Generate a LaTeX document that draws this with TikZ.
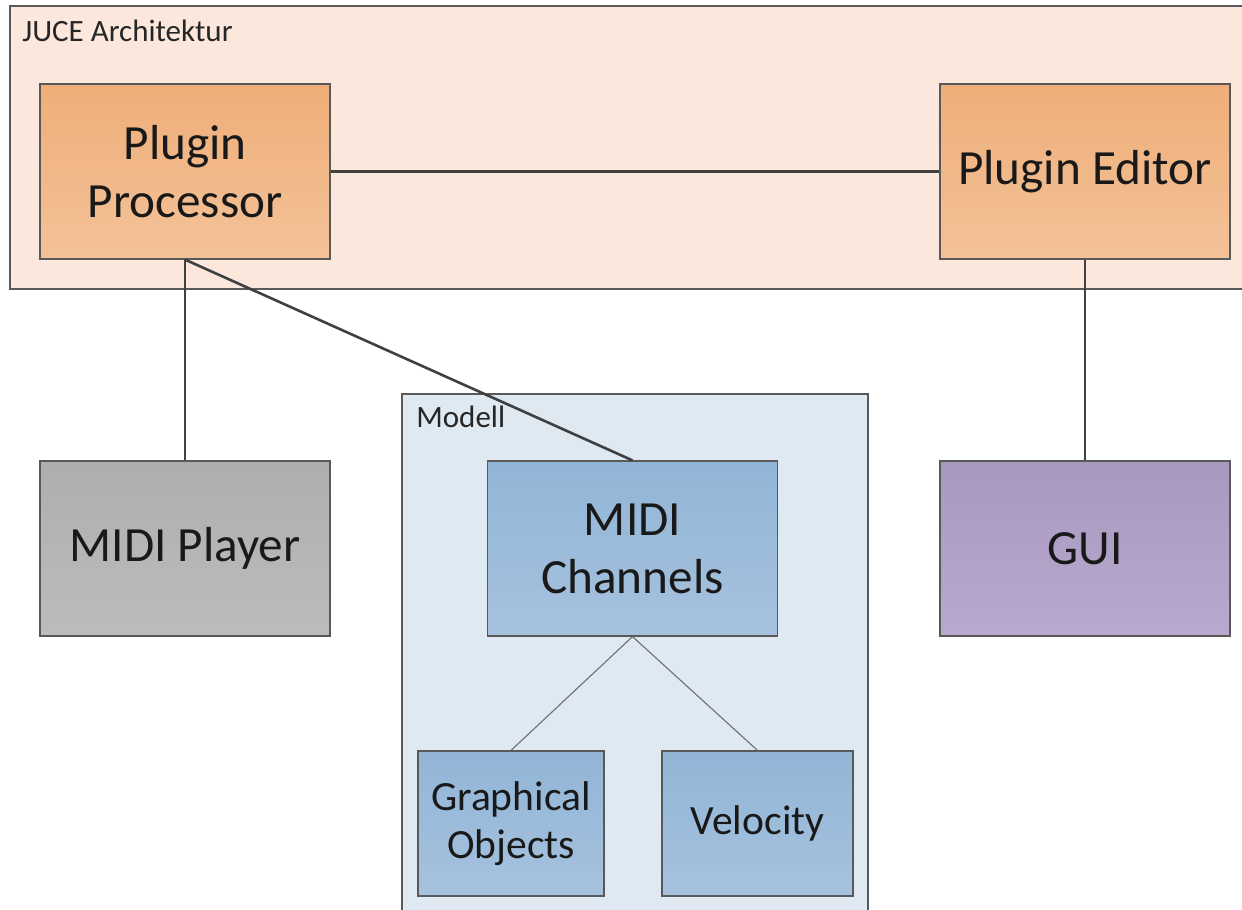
\documentclass[tikz,border=0pt]{standalone}
\usepackage{fontspec}
\setmainfont{Carlito}
\usepackage{tikz}

\definecolor{juceback}{HTML}{FBE7DC}
\definecolor{modellback}{HTML}{DFE9F2}
\definecolor{framegray}{HTML}{595959}
\definecolor{linegray}{HTML}{404040}
\definecolor{thingray}{HTML}{6E6E6E}

\tikzset{
  box/.style={draw=framegray, line width=0.6pt, inner sep=0pt, align=center,
    minimum width=145pt, minimum height=87.5pt, text=black!90,
    font=\fontsize{24.6}{29}\selectfont},
  orangebox/.style={box, top color={rgb,255:red,239;green,174;blue,120},
    bottom color={rgb,255:red,243;green,194;blue,153}},
  bluebox/.style={box, top color={rgb,255:red,146;green,181;blue,215},
    bottom color={rgb,255:red,166;green,194;blue,222}},
  smallbox/.style={bluebox, minimum width=93pt, minimum height=72.5pt,
    font=\fontsize{20.8}{24}\selectfont},
  frame/.style={draw=framegray, line width=0.6pt},
  framelabel/.style={anchor=north west, inner sep=0pt, text=black!85,
    font=\fontsize{15.5}{18}\selectfont},
  link/.style={draw=linegray, line width=1.3pt},
  thinlink/.style={draw=thingray, line width=0.55pt}
}

\begin{document}
\begin{tikzpicture}[x=0.5pt, y=-0.5pt]
  \useasboundingbox (0,0) rectangle (1242,910);

  % Draw the two frames
  \draw[frame, fill=juceback] (10,6) rectangle (1244,289);
  \node[framelabel] (jucelabel) at (22,20) {JUCE Architektur};
  \draw[frame, fill=modellback] (402,394) rectangle (868,914);
  \node[framelabel] (modelllabel) at (416,406) {Modell};

  % Draw the boxes
  \node[orangebox] (proc) at (185,171.5) {Plugin\\Processor};
  \node[orangebox] (editor) at (1085,171.5) {Plugin Editor};
  \node[box, top color={rgb,255:red,174;green,174;blue,174}, bottom color={rgb,255:red,188;green,188;blue,188}] (player) at (185,548.5) {MIDI Player};
  \node[box, top color={rgb,255:red,167;green,152;blue,192}, bottom color={rgb,255:red,185;green,169;blue,206}] (gui) at (1085,548.5) {GUI};
  \node[bluebox] (channels) at (632.5,548.5) {MIDI\\Channels};
  \node[smallbox, minimum width=93pt] (graphobj) at (511,823.5) {Graphical\\Objects};
  \node[smallbox, minimum width=95.5pt] (velocity) at (757.5,823.5) {Velocity};

  % Draw the connections
  \draw[link] (proc.east) -- (editor.west);
  \draw[link] (proc.south) -- (player.north);
  \draw[link] (proc.south) -- (channels.north);
  \draw[link] (editor.south) -- (gui.north);
  \draw[thinlink] (channels.south) -- (graphobj.north);
  \draw[thinlink] (channels.south) -- (velocity.north);
\end{tikzpicture}
\end{document}
